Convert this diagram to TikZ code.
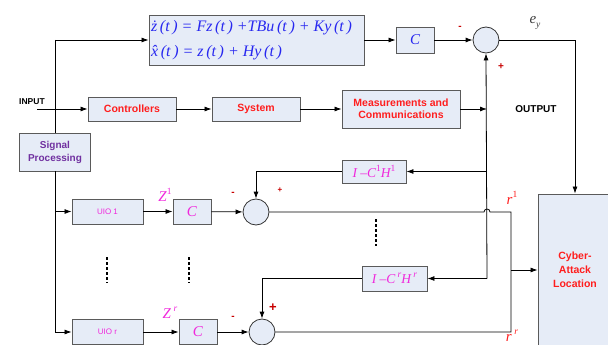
\documentclass[tikz,border=0pt]{standalone}
\usepackage{fontspec}
\setmainfont{Liberation Sans}
\newfontfamily\tms{Liberation Serif}
\usetikzlibrary{arrows.meta}
\definecolor{boxfill}{RGB}{230,236,247}
\definecolor{boxline}{RGB}{90,90,90}
\definecolor{eqblue}{RGB}{40,40,240}
\definecolor{lblred}{RGB}{255,30,30}
\definecolor{sigred}{RGB}{200,0,0}
\definecolor{mag}{RGB}{240,40,220}
\definecolor{purp}{RGB}{112,48,160}
\newcommand\hsup[1]{\raisebox{0.45em}{\fontsize{9.5}{9.5}\selectfont #1}}
\newcommand\hsub[1]{\raisebox{-0.3em}{\fontsize{9.5}{9.5}\selectfont #1}}
\newcommand\pr[1]{\,(#1\,)}
\tikzset{
  blk/.style={draw=boxline, fill=boxfill, line width=0.9pt, inner sep=1pt, align=center},
  sumc/.style={circle, draw=black!80, fill=boxfill, line width=0.8pt, minimum size=26pt, inner sep=0pt},
  arr/.style={-{Latex[length=7pt,width=5pt]}, line width=0.8pt},
  ln/.style={line width=0.8pt},
  bl/.style={font=\bfseries\fontsize{10.5}{12}\selectfont, text=lblred},
  mth/.style={font=\tms\itshape\fontsize{15}{16}\selectfont},
  sgn/.style={text=sigred, font=\bfseries\fontsize{10}{10}\selectfont, inner sep=0pt},
  dts/.style={line width=2pt, dash pattern=on 3pt off 2pt},
}
\begin{document}
\begin{tikzpicture}[x=1pt,y=-1pt]
\useasboundingbox (0,0) rectangle (608,345);
% top observer
\node[blk, minimum width=215pt, minimum height=50pt, align=left, text=eqblue, font=\tms\itshape\fontsize{16}{25}\selectfont, inner sep=1pt] (eq) at (256.5,40)
  {\.z\pr{t} = Fz\pr{t} +TBu\pr{t} + Ky\pr{t}\\ \^x\pr{t} = z\pr{t} + Hy\pr{t}\hspace*{80pt}};
\node[blk, minimum width=38pt, minimum height=26pt, mth, text=eqblue] (ctop) at (415,40) {C};
\node[sumc] (stop) at (486,40) {};
% main chain
\node[blk, bl, minimum width=88pt, minimum height=24pt] (ctrl) at (132,109) {Controllers};
\node[blk, bl, minimum width=88pt, minimum height=24pt] (sys) at (256,109) {System};
\node[blk, bl, minimum width=118pt, minimum height=38pt] (meas) at (401,109) {Measurements and\\Communications};
\node[blk, minimum width=71pt, minimum height=38pt, text=purp, font=\bfseries\fontsize{10}{13}\selectfont] (sp) at (55,152) {Signal\\Processing};
% UIO 1
\node[blk, minimum width=71pt, minimum height=25pt, text=mag, font=\fontsize{8}{8}\selectfont] (uio1) at (107.5,211.5) {UIO 1};
\node[blk, mth, text=mag, minimum width=38pt, minimum height=25pt] (c1) at (192,211.5) {C};
\node[sumc] (s1) at (256,212) {};
\node[blk, mth, text=mag, minimum width=64pt, minimum height=23pt, font=\tms\itshape\fontsize{13.5}{14}\selectfont] (ich1) at (374,171.5) {I \textendash C\hsup{\upshape 1}H\hsup{\upshape 1}};
% UIO r
\node[blk, minimum width=71pt, minimum height=25pt, text=mag, font=\fontsize{8}{8}\selectfont] (uior) at (107.5,332) {UIO r};
\node[blk, mth, text=mag, minimum width=38pt, minimum height=25pt] (cr) at (198,332) {C};
\node[sumc] (sr) at (262,332) {};
\node[blk, mth, text=mag, minimum width=65pt, minimum height=25pt, font=\tms\itshape\fontsize{13.5}{14}\selectfont] (ichr) at (394.5,278.5) {I \textendash C\,\hsup{r}H\,\hsup{r}};
% cyber
\node[blk, bl, minimum width=74pt, minimum height=152pt, font=\bfseries\fontsize{10.5}{14}\selectfont] (cyber) at (575,270) {Cyber-\\Attack\\Location};
% coordinates
\coordinate (inl) at (37,109);
\coordinate (topl) at (55,40);
\coordinate (vm) at (487,109);
\coordinate (v1) at (487,171.5);
\coordinate (vr) at (487,278.5);
\coordinate (b1) at (55,211.5);
\coordinate (br) at (55,332);
\coordinate (tr) at (575,40);
\coordinate (jx) at (511,212);
\coordinate (jm) at (511,270);
% connectors
\draw[arr] (inl) -- (ctrl);
\draw[arr] (ctrl) -- (sys);
\draw[arr] (sys) -- (meas);
\draw[arr] (meas) -- (vm);
\draw[ln] (topl) -- (sp.north);
\draw[arr] (topl) -- (eq.west);
\draw[arr] (eq.east |- ctop) -- (ctop);
\draw[arr] (ctop) -- (stop);
\draw[arr] (vr) -- (stop.south);
\draw[arr] (v1) -- (ich1.east);
\draw[arr] (vr) -- (ichr.east);
\draw[arr] (ich1.west) -| (s1.north);
\draw[arr] (ichr.west) -| (sr.north);
\draw[arr] (stop.east) -- (tr) -- (cyber.north);
\draw[ln] (sp.south) -- (br);
\draw[arr] (b1) -- (uio1.west);
\draw[arr] (br) -- (uior.west);
\draw[arr] (uio1) -- (c1);
\draw[arr] (c1) -- (s1);
\draw[arr] (uior) -- (cr);
\draw[arr] (cr) -- (sr);
\draw[ln] (s1.east) -- (484,212) arc[start angle=180, end angle=0, radius=3pt] -- (jx) |- (sr.east);
\draw[arr] (jm) -- (cyber.west);
% dots
\draw[dts] (107,257) -- (107,283);
\draw[dts] (189,257) -- (189,283);
\draw[dts] (376,219) -- (376,246);
% labels
\node[font=\bfseries\fontsize{8.5}{10}\selectfont, inner sep=0pt] (inp) at (32,102) {INPUT};
\node[font=\bfseries\fontsize{10}{10}\selectfont, inner sep=0pt] (outp) at (536,109) {OUTPUT};
\node[mth, text=black!75, inner sep=0pt] (ey) at (535,23) {e\hsub{y}};
\node[sgn] (m0) at (460,28) {-};
\node[sgn] (p0) at (501,67) {+};
\node[mth, text=mag, inner sep=0pt] (z1) at (165,195) {Z\hsup{\upshape 1}};
\node[sgn] (m1) at (233,194) {-};
\node[sgn, font=\bfseries\fontsize{8}{8}\selectfont] (p1) at (280,190) {+};
\node[mth, text=mag, inner sep=0pt] (zr) at (170,313) {Z\,\hsup{r}};
\node[sgn] (m2) at (233,318) {-};
\node[sgn, font=\bfseries\fontsize{13}{13}\selectfont] (p2) at (273,308) {+};
\node[mth, text=lblred, inner sep=0pt] (r1) at (512,198) {r\hsup{\upshape 1}};
\node[mth, text=lblred, inner sep=0pt] (rr) at (512,336) {r\,\hsup{r}};
\end{tikzpicture}
\end{document}
